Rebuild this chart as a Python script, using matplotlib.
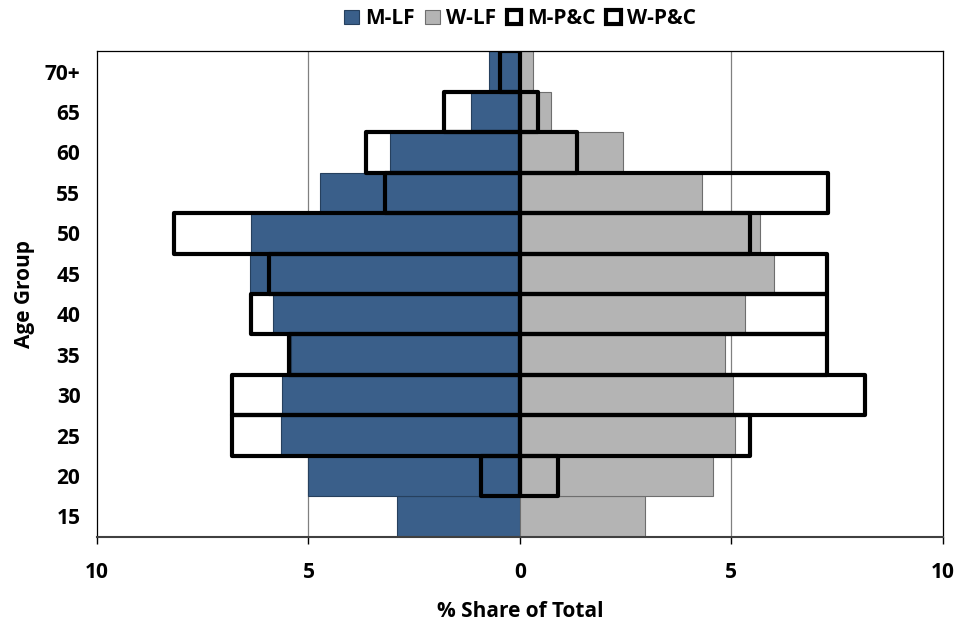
import numpy as np
import matplotlib.pyplot as plt
from matplotlib.patches import Patch

plt.rcParams['font.family'] = ['Open Sans', 'DejaVu Sans']
plt.rcParams['font.weight'] = 'bold'

# age groups, bottom to top
ages = ['15', '20', '25', '30', '35', '40', '45', '50', '55', '60', '65', '70+']

# % share of total, men drawn to the left
m_lf = [2.90, 5.01, 5.66, 5.63, 5.41, 5.83, 6.39, 6.35, 4.73, 3.07, 1.15, 0.72]
w_lf = [2.97, 4.56, 5.08, 5.04, 4.84, 5.32, 6.01, 5.68, 4.31, 2.45, 0.73, 0.31]
m_pc = [0.00, 0.92, 6.80, 6.80, 5.46, 6.36, 5.93, 8.18, 3.19, 3.63, 1.80, 0.47]
w_pc = [0.00, 0.90, 5.44, 8.16, 7.26, 7.26, 7.26, 5.44, 7.28, 1.34, 0.44, 0.00]

blue = '#3a5f8a'
grey = '#b4b4b4'
fs = 15

fig = plt.figure(figsize=(9.58, 6.22), dpi=100)
ax = fig.add_axes([0.1013, 0.1372, 0.8827, 0.7803])

y = np.arange(len(ages))
ax.barh(y, -np.array(m_lf), height=1.0, color=blue, edgecolor='#26405e', linewidth=0.8, zorder=2)
ax.barh(y, w_lf, height=1.0, color=grey, edgecolor='#6e6e6e', linewidth=0.8, zorder=2)

# P&C shares as heavy outlines over the labour-force bars
for vals, sign in ((m_pc, -1), (w_pc, 1)):
    for yi, v in zip(y, vals):
        if v > 0:
            ax.barh(yi, sign * v, height=1.0, facecolor='none', edgecolor='black',
                    linewidth=3.0, joinstyle='round', zorder=3)

ax.set_xlim(-10, 10)
ax.set_ylim(-0.5, len(ages) - 0.5)
ax.set_xticks([-10, -5, 0, 5, 10])
ax.set_xticklabels(['10', '5', '0', '5', '10'], fontsize=fs, fontweight='bold')
ax.set_yticks(y)
ax.set_yticklabels(ages, fontsize=fs, fontweight='bold')
ax.tick_params(axis='y', length=0, pad=12)
ax.tick_params(axis='x', length=5, width=1, direction='out', pad=13)

for gx in (-5, 5):
    ax.axvline(gx, color='#808080', linewidth=0.9, zorder=1)
for s in ax.spines.values():
    s.set_linewidth(0.9)
ax.spines['bottom'].set_color('#404040')
ax.spines['bottom'].set_linewidth(1.5)

ax.set_xlabel('% Share of Total', fontsize=fs, fontweight='bold', labelpad=13)
ax.set_ylabel('Age Group', fontsize=fs, fontweight='bold', labelpad=7)

handles = [
    Patch(facecolor=blue, edgecolor='#26405e', linewidth=0.8, label='M-LF'),
    Patch(facecolor=grey, edgecolor='#6e6e6e', linewidth=0.8, label='W-LF'),
    Patch(facecolor='white', edgecolor='black', linewidth=3.0, label='M-P&C'),
    Patch(facecolor='white', edgecolor='black', linewidth=3.0, label='W-P&C'),
]
fig.legend(handles=handles, loc='center', bbox_to_anchor=(0.543, 0.97), ncol=4,
           frameon=False, prop={'weight': 'bold', 'size': fs},
           handlelength=0.7, handleheight=0.7, handletextpad=0.3, columnspacing=0.5)

fig.savefig('out.png', dpi=100)
